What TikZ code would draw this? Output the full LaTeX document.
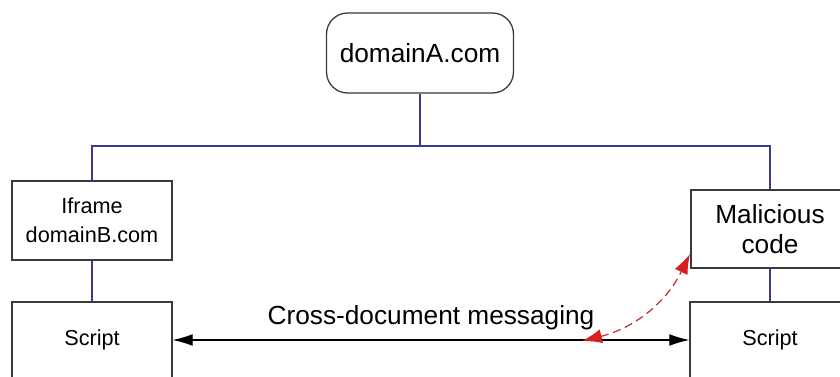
\documentclass[tikz,border=0pt]{standalone}
\usepackage{fontspec}
\setmainfont{Liberation Sans}
\usetikzlibrary{arrows.meta}

\definecolor{boxgray}{HTML}{3A3A3A}
\definecolor{linkblue}{HTML}{3C3C8C}
\definecolor{msgred}{HTML}{D42020}

\begin{document}
\begin{tikzpicture}[x=0.03cm,y=-0.03cm,
    box/.style={draw=boxgray,line width=1.1pt,fill=white,align=center,inner sep=0pt},
    link/.style={linkblue,line width=0.9pt},
    bigtxt/.style={font=\fontsize{22.4}{26}\selectfont},
    smalltxt/.style={font=\fontsize{18.5}{25}\selectfont},
    msgtip/.tip={Latex[length=17pt,width=10pt]},
    redtip/.tip={Latex[length=17pt,width=12pt,color=msgred]}]
            \useasboundingbox (0,0) rectangle (840,377);
            \clip (0,0) rectangle (840,377);
            \node[box,bigtxt,rounded corners=18pt,minimum width=187*0.03cm,minimum height=80*0.03cm]
                (domA) at (420,53) {domainA.com};
            \node[box,smalltxt,minimum width=160*0.03cm,minimum height=79*0.03cm]
                (iframeB) at (92,220.5) {Iframe\\domainB.com};
            \node[box,bigtxt,minimum width=158*0.03cm,minimum height=78*0.03cm]
                (malcode) at (770,229) {Malicious\\code};
            \foreach \n/\x in {scriptL/92,scriptR/770}
                \node[box,smalltxt,minimum width=160*0.03cm,minimum height=76*0.03cm]
                    (\n) at (\x,340) {Script};
            \coordinate (bus) at (420,146);
            \draw[link] (domA) -- (bus);
            \draw[link] (iframeB) |- (bus) -| (malcode);
            \draw[link] (iframeB) -- (scriptL);
            \draw[link] (malcode) -- (scriptR);
            \draw[msgtip-msgtip,line width=0.9pt] (scriptL) -- (scriptR)
                node[midway,above=5pt,bigtxt] {Cross-document messaging};
            \coordinate (hit) at (582,341);
            \coordinate (tip) at (690,254);
            \draw[msgred!75!gray,line width=1.1pt,dash pattern=on 7pt off 4pt,redtip-redtip]
                (hit) to[bend right=25] (tip);
        \end{tikzpicture}
\end{document}
